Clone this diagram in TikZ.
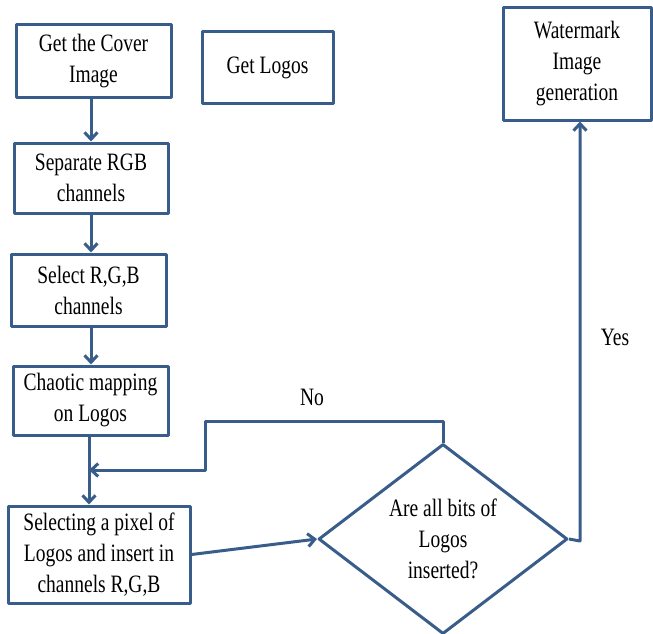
\documentclass[tikz,border=0pt]{standalone}
\usepackage{fontspec}
\setmainfont{Liberation Serif}[FakeStretch=0.78]
\usetikzlibrary{shapes.geometric,arrows.meta}
\definecolor{flowblue}{RGB}{56,93,138}
\begin{document}
\begin{tikzpicture}[x=1pt,y=-1pt,font=\fontsize{25}{31}\selectfont, line join=round, >={Straight Barb[length=7pt,width=13pt]},
	box/.style={draw=flowblue,line width=3pt,fill=white,align=center,inner sep=0pt},
	link/.style={draw=flowblue,line width=3pt,->}]
	\useasboundingbox (0,0) rectangle (653,634);
	\path 
	(89,470) coordinate (merge)
	(205,421) coordinate (noturn)
	(580,541) coordinate (yesturn)
	;
	\node[box,minimum width=155pt,minimum height=72pt] (cover) at (93.5,61) {Get the Cover\\Image};
	\node[box,minimum width=131pt,minimum height=71pt] (logos) at (267.5,67.5) {Get Logos};
	\node[box,minimum width=154pt,minimum height=70pt] (sep) at (91,178) {Separate RGB\\channels};
	\node[box,minimum width=155pt,minimum height=72pt] (select) at (88.5,290) {Select R,G,B\\channels};
	\node[box,minimum width=155pt,minimum height=69pt] (chaotic) at (90.5,400.5) {Chaotic mapping\\on Logos};
	\node[box,minimum width=182pt,minimum height=97pt] (pixel) at (99,554.5) {Selecting a pixel of\\Logos and insert in\\channels R,G,B};
	\node[box,shape=diamond,minimum width=249pt,minimum height=190pt] (check) at (443,539) {Are all bits of\\Logos\\inserted?};
	\node[box,minimum width=148pt,minimum height=112pt] (mark) at (577,64) {Watermark\\Image\\generation};
	\node (no) at (312,397) {No};
	\node (yes) at (615,337) {Yes};
	\draw[link] (cover.south -| sep) -- (sep.north);
	\draw[link] (sep.south) -- (sep.south |- select.north);
	\draw[link] (select.south -| sep) -- (chaotic.north -| sep);
	\draw[link] (chaotic.south -| merge) -- (pixel.north -| merge);
	\draw[link] (check.north) |- (noturn) |- (merge);
	\draw[link] (pixel.east) -- (check.west);
	\draw[link] (check.east) -- (yesturn) -- (yesturn |- mark.south);
\end{tikzpicture}
\end{document}
